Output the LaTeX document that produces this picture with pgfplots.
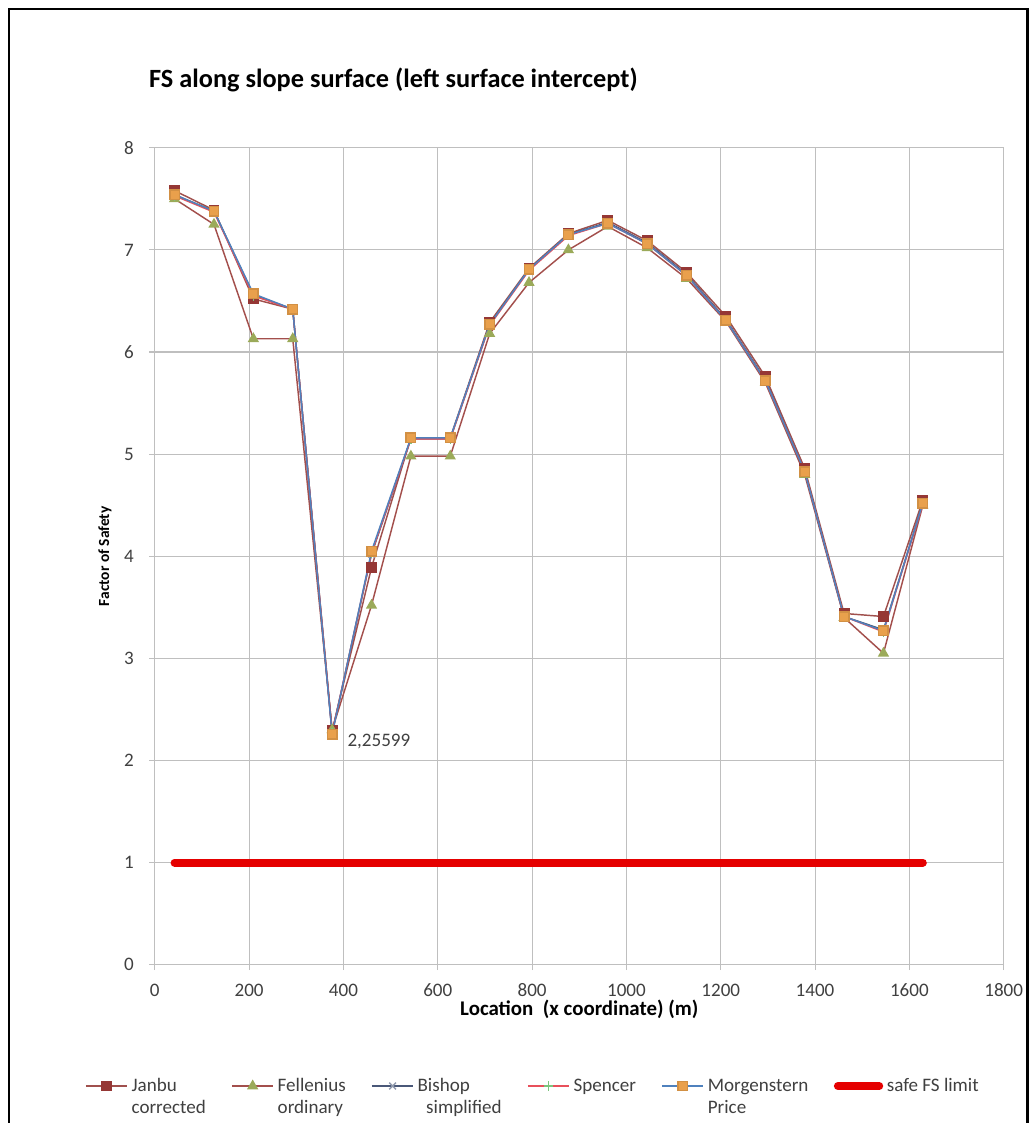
\documentclass[border=0pt]{standalone}
\usepackage{pgfplots}
\pgfplotsset{compat=1.18}
\usepackage{pgfplotstable}
\usepackage{fontspec}
\setmainfont{Carlito}
\definecolor{janbu}{HTML}{953735}
\definecolor{janbuline}{HTML}{A0504D}
\definecolor{fellline}{HTML}{A34F4C}
\definecolor{fellmark}{HTML}{9BAA59}
\definecolor{bishop}{HTML}{4A5878}
\definecolor{spencer}{HTML}{E8505B}
\definecolor{spencermark}{HTML}{7CC47C}
\definecolor{mpline}{HTML}{4F81BD}
\definecolor{mpmark}{HTML}{E9A04C}
\definecolor{gridgray}{HTML}{BFBFBF}
\definecolor{txtgray}{HTML}{404040}
\newcommand{\twoline}[2]{\vtop{\hbox{#1}\hbox{#2}}}
\pgfplotstableread{
x      J     F     B     S     M
42     7.58  7.50  7.54  7.53  7.54
125.5  7.39  7.25  7.38  7.37  7.38
209    6.52  6.13  6.56  6.55  6.57
292.5  6.42  6.13  6.42  6.42  6.42
376    2.29  2.30  2.27  2.27  2.256
459.5  3.89  3.52  4.02  4.03  4.05
543    5.16  4.98  5.15  5.15  5.16
626.5  5.16  4.98  5.15  5.15  5.16
710    6.29  6.18  6.27  6.26  6.27
793.5  6.82  6.68  6.81  6.80  6.81
877    7.16  7.00  7.15  7.14  7.15
960.5  7.29  7.23  7.27  7.26  7.26
1044   7.09  7.02  7.07  7.06  7.06
1127.5 6.78  6.72  6.76  6.75  6.75
1211   6.35  6.30  6.32  6.31  6.31
1294.5 5.76  5.70  5.73  5.72  5.72
1378   4.86  4.80  4.83  4.83  4.83
1461.5 3.44  3.40  3.41  3.41  3.41
1545   3.41  3.05  3.28  3.26  3.27
1628.5 4.55  4.50  4.52  4.51  4.52
}\fsdata
\begin{document}
\begin{tikzpicture}
\begin{axis}[
  scale only axis,
  width=467.5pt, height=449.9pt,
  xmin=0, xmax=1800, ymin=0, ymax=8,
  xtick distance=200, ytick distance=1,
  grid=major,
  grid style={gridgray, line width=0.6pt},
  axis line style={gridgray, line width=0.7pt},
  tick style={gridgray, line width=0.6pt},
  tick align=outside,
  major tick length=3pt,
  xtick pos=bottom, ytick pos=left,
  /pgf/number format/assume math mode=true,
  /pgf/number format/1000 sep={},
  ticklabel style={font=\fontsize{10.5}{12}\selectfont, text=txtgray},
  yticklabel style={xshift=-5pt},
  xticklabel style={yshift=-4pt},
  xlabel={Location\ \ (x coordinate) (m)},
  ylabel={Factor of Safety},
  xlabel style={font=\bfseries\fontsize{11.5}{13}\selectfont, text=black, at={(axis description cs:0.5,-0.054)}, anchor=center},
  ylabel style={font=\bfseries\fontsize{8.5}{10}\selectfont, text=black, at={(axis description cs:-0.0588,0.5)}, anchor=center},
  clip=false,
  legend columns=6,
  legend style={at={(rel axis cs:-0.0824,-0.134)}, anchor=north west, draw=none, fill=none, inner sep=0pt,
    font=\fontsize{10.5}{12}\selectfont, text=txtgray,
    cells={anchor=base west},
    /tikz/every even column/.append style={column sep=12pt}},
  legend image code/.code={\draw[mark repeat=2,mark phase=2, yshift=0.3em] plot coordinates {(0cm,0cm)(0.4cm,0cm)(0.8cm,0cm)};},
]
\addplot[janbuline, line width=0.8pt, mark=square*, mark size=2.6pt, mark options={fill=janbu, draw=janbu}] table[x=x,y=J] {\fsdata};
\addlegendentry{\twoline{Janbu}{corrected}}
\addplot[fellline, line width=0.8pt, mark=triangle*, mark size=2.8pt, mark options={fill=fellmark, draw=fellmark}] table[x=x,y=F] {\fsdata};
\addlegendentry{\twoline{Fellenius}{ordinary}}
\addplot[bishop, line width=0.8pt, mark=x, mark size=2.6pt, mark options={draw=bishop!60}] table[x=x,y=B] {\fsdata};
\addlegendentry{\twoline{Bishop}{\ \ simplified}}
\addplot[spencer, line width=0.8pt, mark=+, mark size=2.6pt, mark options={draw=spencermark}] table[x=x,y=S] {\fsdata};
\addlegendentry{Spencer}
\addplot[mpline, line width=0.8pt, mark=square*, mark size=2.6pt, mark options={fill=mpmark, draw=mpmark!90!black}] table[x=x,y=M] {\fsdata};
\addlegendentry{\twoline{Morgenstern}{Price}}
\addplot[red!90!black, line width=4.4pt, line cap=round, no marks] coordinates {(42,1) (1628.5,1)};
\addlegendentry{safe FS limit}
\node[anchor=west, font=\fontsize{10.5}{12}\selectfont, text=txtgray] at (axis cs:395,2.19) {2,25599};
\node[anchor=west, font=\bfseries\fontsize{14.5}{16}\selectfont] at (rel axis cs:-0.0141,1.083) {FS along slope surface (left surface intercept)};
\path (rel axis cs:-0.18235,1.18093) rectangle (rel axis cs:1.03176,-0.19315);
\draw[black, line width=1.6pt] (rel axis cs:-0.17176,-0.19315) -- (rel axis cs:-0.17176,1.16993) -- (rel axis cs:1.02824,1.16993) -- (rel axis cs:1.02824,-0.19315);
\end{axis}
\end{tikzpicture}
\end{document}
